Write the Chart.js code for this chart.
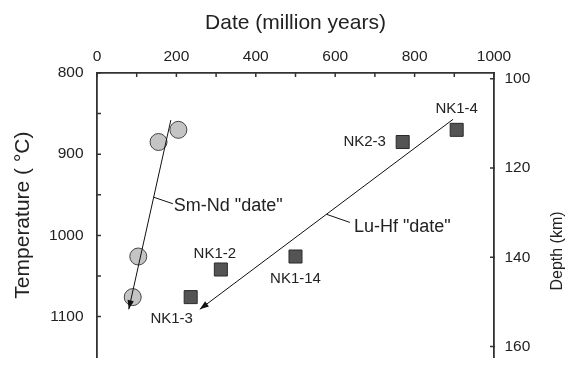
<!DOCTYPE html>
<html>
<head>
<meta charset="utf-8">
<script src="https://cdn.jsdelivr.net/npm/chart.js@4"></script>
<style>
  body { margin: 0; background: #fff; }
</style>
</head>
<body>
<canvas id="c" width="571" height="380"></canvas>
<script>
// Sm-Nd (circles) and Lu-Hf (squares) samples
const smNdDate = [205, 155, 104, 90];
const smNdTemp = [870, 885, 1026, 1076];

const luHfNames = ['NK1-2', 'NK1-3', 'NK1-14', 'NK2-3', 'NK1-4'];
const luHfDate = [312, 236, 500, 770, 906];
const luHfTemp = [1042, 1076, 1026, 885, 870];

// trend lines, drawn from start to arrow tip
const smNdTrendDate = [186, 80];
const smNdTrendTemp = [858, 1091];
const luHfTrendDate = [897, 259];
const luHfTrendTemp = [857, 1091];

// leader lines for the "date" notes
const smNdLeaderDate = [143, 191];
const smNdLeaderTemp = [953, 961];
const luHfLeaderDate = [578, 637];
const luHfLeaderTemp = [974, 984];

const dateTicks = [0, 100, 200, 300, 400, 500, 600, 700, 800, 900, 1000];
const tempTicks = [800, 850, 900, 950, 1000, 1050, 1100];
const depthTicks = [100, 120, 140, 160];

const pts = (xs, ys) => xs.map((x, i) => ({ x: x, y: ys[i] }));

const INK = '#222';
const AXIS = '#333';

// where each square's name sits, relative to the square (px)
const nameOffset = [[-6, -16], [-19, 22], [0, 22], [-38, 0], [0, -21]];

const extras = {
    id: 'extras',
    afterDraw(chart) {
        const ctx = chart.ctx;
        const area = chart.chartArea;
        const sx = chart.scales.x, sy = chart.scales.y, sd = chart.scales.y2;
        ctx.save();

        // inward tick marks
        ctx.strokeStyle = AXIS;
        ctx.lineWidth = 1.5;
        ctx.beginPath();
        sx.ticks.forEach(t => {
            const p = sx.getPixelForValue(t.value);
            ctx.moveTo(p, area.top); ctx.lineTo(p, area.top + 4);
        });
        sy.ticks.forEach(t => {
            const p = sy.getPixelForValue(t.value);
            ctx.moveTo(area.left, p); ctx.lineTo(area.left + 4, p);
        });
        sd.ticks.forEach(t => {
            const p = sd.getPixelForValue(t.value);
            ctx.moveTo(area.right - 4, p); ctx.lineTo(area.right + 1, p);
        });
        ctx.stroke();

        // arrowheads at the end of the trend lines
        ctx.fillStyle = '#111';
        [0, 1].forEach(i => {
            const d = chart.getDatasetMeta(i).data;
            const a = d[d.length - 2], b = d[d.length - 1];
            const ang = Math.atan2(b.y - a.y, b.x - a.x);
            const len = 9, hw = 3.2;
            ctx.beginPath();
            ctx.moveTo(b.x, b.y);
            ctx.lineTo(b.x - len * Math.cos(ang) + hw * Math.sin(ang), b.y - len * Math.sin(ang) - hw * Math.cos(ang));
            ctx.lineTo(b.x - len * Math.cos(ang) - hw * Math.sin(ang), b.y - len * Math.sin(ang) + hw * Math.cos(ang));
            ctx.closePath();
            ctx.fill();
        });

        // notes at the leader ends
        ctx.fillStyle = INK;
        ctx.font = '18px "Liberation Sans", Arial, sans-serif';
        ctx.textAlign = 'left';
        ctx.textBaseline = 'middle';
        const l1 = chart.getDatasetMeta(2).data[1];
        ctx.fillText('Sm-Nd "date"', l1.x + 1, l1.y + 2);
        const l2 = chart.getDatasetMeta(3).data[1];
        ctx.fillText('Lu-Hf "date"', l2.x + 4, l2.y + 5);

        // sample names
        ctx.font = '15px "Liberation Sans", Arial, sans-serif';
        ctx.textAlign = 'center';
        chart.getDatasetMeta(5).data.forEach((el, i) => {
            ctx.fillText(luHfNames[i], el.x + nameOffset[i][0], el.y + nameOffset[i][1]);
        });

        // right axis title, reading bottom to top
        ctx.font = '16px "Liberation Sans", Arial, sans-serif';
        ctx.translate(558, 251);
        ctx.rotate(-Math.PI / 2);
        ctx.fillText('Depth (km)', 0, 0);
        ctx.restore();
    }
};

const tickFont = { family: '"Liberation Sans", Arial, sans-serif', size: 15.5 };
const titleFont = { family: '"Liberation Sans", Arial, sans-serif', size: 21 };

new Chart(document.getElementById('c'), {
    type: 'scatter',
    data: {
        datasets: [
            { data: pts(smNdTrendDate, smNdTrendTemp), showLine: true, borderColor: '#111', borderWidth: 1, pointRadius: 0 },
            { data: pts(luHfTrendDate, luHfTrendTemp), showLine: true, borderColor: '#111', borderWidth: 1, pointRadius: 0 },
            { data: pts(smNdLeaderDate, smNdLeaderTemp), showLine: true, borderColor: '#111', borderWidth: 1, pointRadius: 0 },
            { data: pts(luHfLeaderDate, luHfLeaderTemp), showLine: true, borderColor: '#111', borderWidth: 1, pointRadius: 0 },
            {
                data: pts(smNdDate, smNdTemp),
                pointStyle: 'circle', pointRadius: 8.5,
                backgroundColor: '#c4c4c4', borderColor: '#444', borderWidth: 1
            },
            {
                data: pts(luHfDate, luHfTemp),
                pointStyle: 'rect', pointRadius: 9.2,
                backgroundColor: '#545454', borderColor: '#2a2a2a', borderWidth: 1
            }
        ]
    },
    options: {
        responsive: false,
        animation: false,
        devicePixelRatio: 1,
        layout: { padding: 0 },
        plugins: { legend: { display: false }, tooltip: { enabled: false } },
        scales: {
            x: {
                type: 'linear', position: 'top', min: 0, max: 1000,
                afterBuildTicks: s => { s.ticks = dateTicks.map(v => ({ value: v })); },
                afterFit: s => { s.height = 73; },
                grid: { display: false, drawTicks: false },
                border: { color: AXIS, width: 1.8 },
                ticks: {
                    autoSkip: false, maxRotation: 0, padding: 7, color: INK, font: tickFont,
                    callback: v => (v % 200 === 0 ? v : '')
                },
                title: { display: true, text: 'Date (million years)', color: INK, font: titleFont, padding: { top: 10.5, bottom: 0 } }
            },
            y: {
                type: 'linear', position: 'left', reverse: true, min: 800, max: 1150,
                afterBuildTicks: s => { s.ticks = tempTicks.map(v => ({ value: v })); },
                afterFit: s => { s.width = 97; },
                grid: { display: false, drawTicks: false },
                border: { color: AXIS, width: 1.8 },
                ticks: {
                    autoSkip: false, padding: 13.5, color: INK, font: tickFont,
                    callback: v => (v % 100 === 0 ? v : '')
                },
                title: { display: true, text: 'Temperature ( °C)', color: INK, font: titleFont, padding: { top: 10.4, bottom: 0 } }
            },
            y2: {
                type: 'linear', position: 'right', reverse: true, min: 98.7, max: 162.4,
                afterBuildTicks: s => { s.ticks = depthTicks.map(v => ({ value: v })); },
                afterFit: s => { s.width = 77; },
                grid: { display: false, drawTicks: false },
                border: { color: AXIS, width: 1.8 },
                ticks: { autoSkip: false, padding: 10.5, color: INK, font: tickFont }
            }
        }
    },
    plugins: [extras]
});
</script>
</body>
</html>
